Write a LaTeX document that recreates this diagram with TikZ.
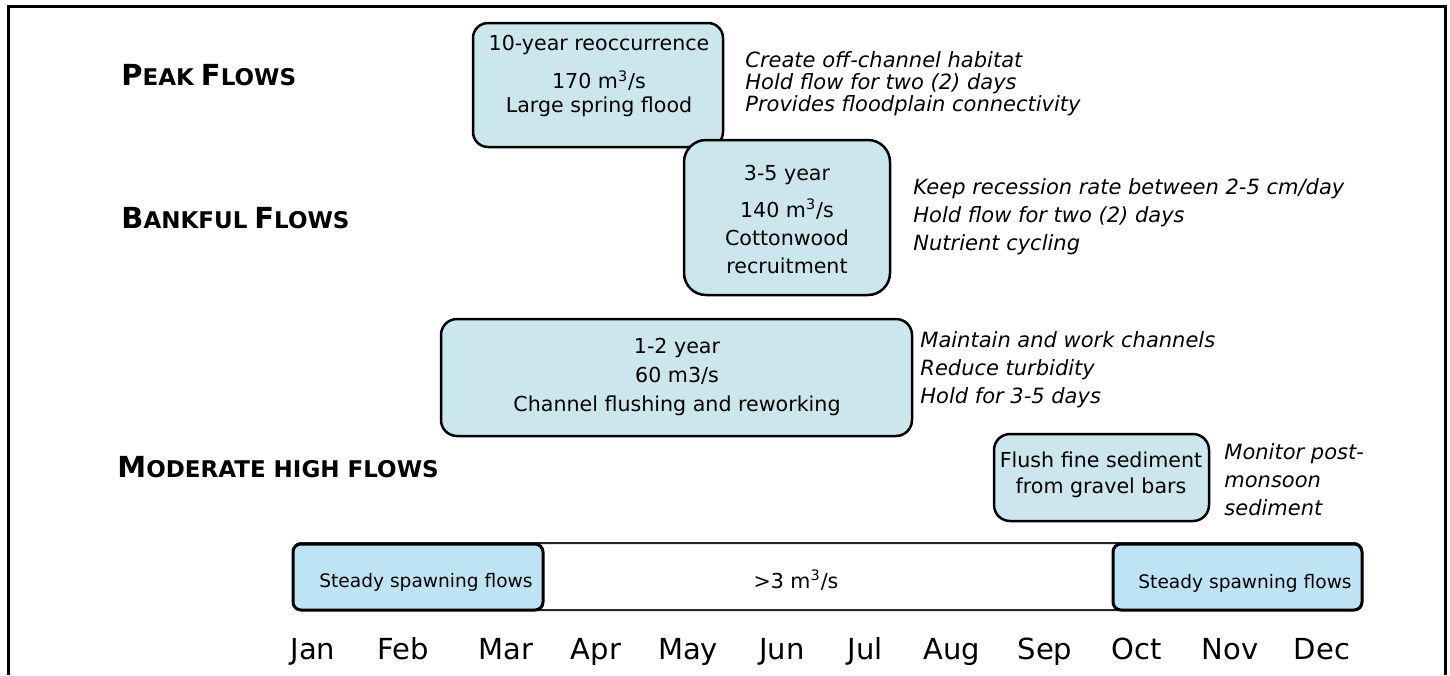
\documentclass[tikz,border=0pt]{standalone}
\usepackage{fontspec}
\setmainfont{DejaVu Sans}
\usepackage{tikz}
\definecolor{boxblue}{RGB}{203,230,236}
\definecolor{spawnblue}{RGB}{190,227,245}
\tikzstyle{flowbox}=[draw=black,line width=1.25pt,fill=boxblue,rounded corners=8pt,inner sep=0pt]
\tikzstyle{spawnbox}=[draw=black,line width=1.5pt,fill=spawnblue,rounded corners=4pt,inner sep=0pt]
\tikzstyle{barbox}=[draw=black!85,line width=1pt,fill=white,rounded corners=4pt,inner sep=0pt]
\tikzstyle{boxtext}=[align=center,inner sep=0pt,font=\fontsize{10.3}{12}\selectfont]
\tikzstyle{bartext}=[anchor=base,inner sep=0pt,font=\fontsize{9.3}{11}\selectfont]
\tikzstyle{note}=[align=left,anchor=west,inner sep=0pt,font=\fontsize{10.5}{14}\selectfont\itshape]
\tikzstyle{flowlabel}=[anchor=west,inner sep=0pt,font=\bfseries]
\tikzstyle{month}=[anchor=base,inner sep=0pt,font=\fontsize{14.5}{16}\selectfont]
\newcommand{\smcap}[2]{{\fontsize{14.5}{16}\selectfont #1}{\fontsize{11.5}{13}\selectfont #2}}
\newcommand{\cubic}{m\textsuperscript{3}/s}

\begin{document}
\begin{tikzpicture}[x=0.5pt,y=-0.5pt]
        \useasboundingbox (0,0) rectangle (1450,675);
        \draw[line width=1.5pt] (8,675) -- (8,6) -- (1445,6) -- (1445,675);
        % flow classes
        \node[flowlabel] (peak) at (121,75) {\smcap{P}{EAK} \smcap{F}{LOWS}};
        \node[flowlabel] (bankful) at (121,218) {\smcap{B}{ANKFUL} \smcap{F}{LOWS}};
        \node[flowlabel] (moderate) at (117,467) {\smcap{M}{ODERATE HIGH FLOWS}};
        % event boxes
        \node[flowbox,minimum width=125pt,minimum height=62pt,rounded corners=7.5pt] (tenyr) at (598,85) {};
        \node[boxtext] (tenyrtxt) at (599,76) {10-year reoccurrence\\[7pt]170 \cubic\\Large spring flood};
        \node[flowbox,minimum width=103pt,minimum height=77.5pt,rounded corners=11pt] (threeyr) at (787,217.5) {};
        \node[boxtext,font=\fontsize{10.3}{14}\selectfont] (threeyrtxt) at (787,219) {3-5 year\\[4.5pt]140 \cubic\\Cottonwood\\recruitment};
        \node[flowbox,minimum width=235.5pt,minimum height=58.5pt] (oneyr) at (676.5,377.5) {};
        \node[boxtext,font=\fontsize{10.3}{14.5}\selectfont] (oneyrtxt) at (677,377) {1-2 year\\60 m3/s\\Channel flushing and reworking};
        \node[flowbox,minimum width=107.5pt,minimum height=43.5pt] (flush) at (1101.5,477.5) {};
        \node[boxtext,font=\fontsize{10.3}{13}\selectfont] (flushtxt) at (1101,475) {Flush fine sediment\\from gravel bars};
        % notes
        \node[note,font=\fontsize{10.5}{11}\selectfont\itshape] (peaknote) at (745,84) {Create off-channel habitat\\Hold flow for two (2) days\\Provides floodplain connectivity};
        \node[note] (bankfulnote) at (913,217) {Keep recession rate between 2-5 cm/day\\Hold flow for two (2) days\\Nutrient cycling};
        \node[note] (oneyrnote) at (920,370) {Maintain and work channels\\Reduce turbidity\\Hold for 3-5 days};
        \node[note] (flushnote) at (1224,480) {Monitor post-\\monsoon\\sediment};
        % base flow bar
        \node[barbox,minimum width=534.5pt,minimum height=33.5pt] (bar) at (827.5,576.5) {};
        \node[spawnbox,minimum width=125pt,minimum height=33pt] (spawnA) at (418,577) {};
        \node[spawnbox,minimum width=124.5pt,minimum height=33pt] (spawnB) at (1237.5,577) {};
        \node[bartext] (spawnAtxt) at (426,587) {Steady spawning flows};
        \node[bartext] (spawnBtxt) at (1245,588) {Steady spawning flows};
        \node[bartext,font=\fontsize{10.3}{12}\selectfont] (bartxt) at (796,588) {>3 \cubic};
        % months
        \foreach \m/\x in {Jan/313,Feb/403,Mar/506,Apr/596,May/688,Jun/782,Jul/865,Aug/952,Sep/1045,Oct/1137,Nov/1230,Dec/1322}
          \node[month] (\m) at (\x,659) {\m};
      \end{tikzpicture}
\end{document}
